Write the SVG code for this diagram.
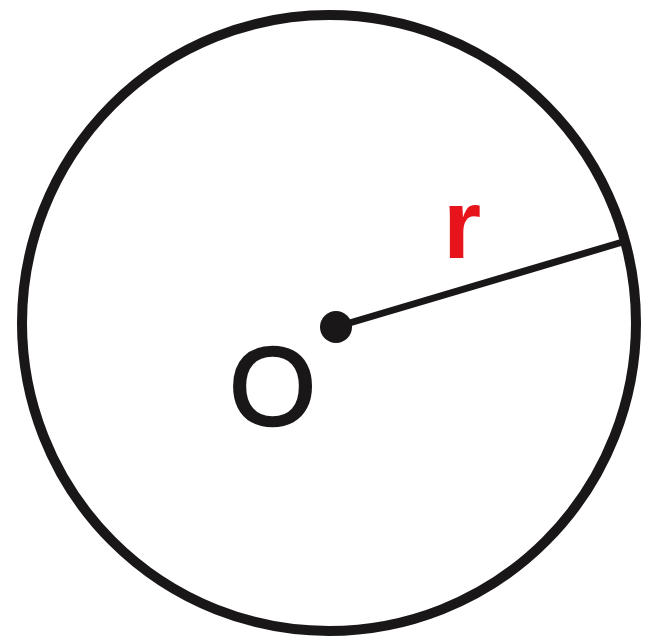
<svg xmlns="http://www.w3.org/2000/svg" width="650" height="644" viewBox="0 0 650 644">
<style>
.ink{stroke:#1a1718;fill:none}
.lbl{font-family:"Liberation Sans",Arial,sans-serif}
</style>
<rect width="650" height="644" fill="#fff"/>
<g id="circle"><ellipse class="ink" cx="329" cy="323" rx="307" ry="308" stroke-width="10"/></g>
<g id="connectors"><line class="ink" x1="336" y1="327" x2="626" y2="241" stroke-width="7"/></g>
<g id="center"><circle cx="336" cy="327" r="16" fill="#1a1718"/>
<text class="lbl" x="229" y="425" font-size="112" fill="#1a1718" stroke="#1a1718" stroke-width="2.5">O</text></g>
<g id="radius-label"><text class="lbl" x="443" y="258" font-size="98" font-weight="bold" fill="#e8141c">r</text></g>
</svg>
